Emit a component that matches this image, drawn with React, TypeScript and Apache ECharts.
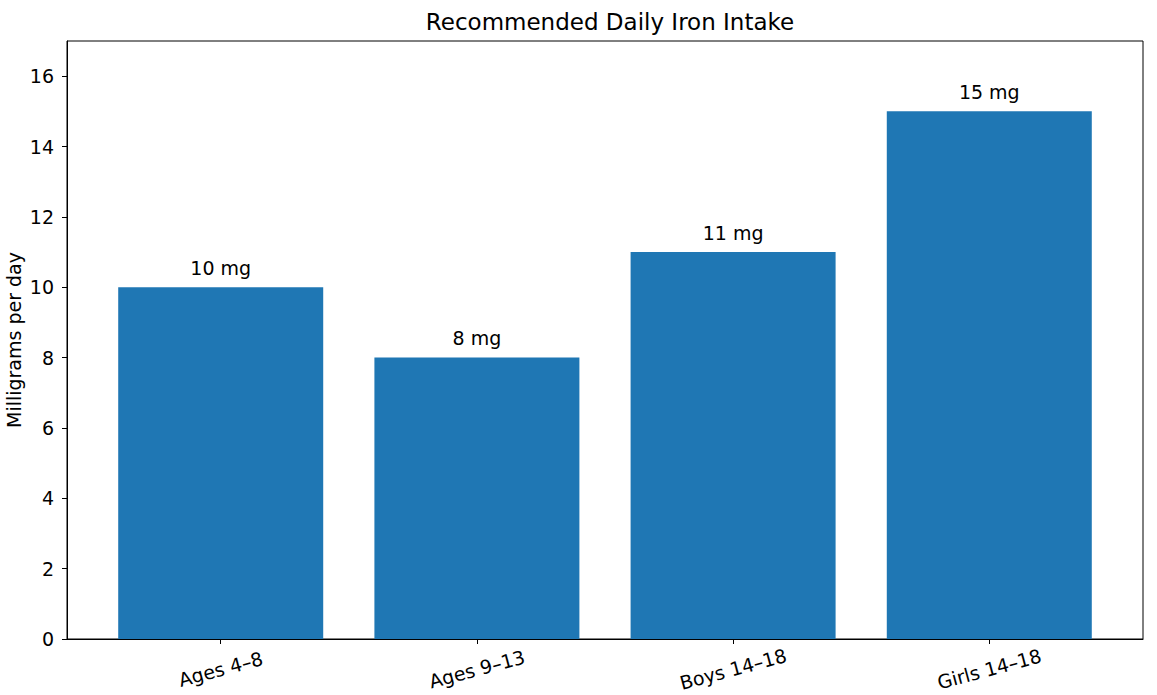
import React, { useEffect, useRef } from "react";
import * as echarts from "echarts";

const categories = ["Ages 4–8", "Ages 9–13", "Boys 14–18", "Girls 14–18"];
const values = [10, 8, 11, 15];
const yTicks = [0, 2, 4, 6, 8, 10, 12, 14, 16];
const xPositions = [0, 1, 2, 3];

const FONT = "DejaVu Sans";

export default function App() {
  const ref = useRef<HTMLDivElement>(null);
  useEffect(() => {
    document.body.style.margin = "0";
    const chart = echarts.init(ref.current!, null, { renderer: "svg" });
    chart.setOption({
      animation: false,
      backgroundColor: "#ffffff",
      textStyle: { fontFamily: FONT },
      title: {
        text: "Recommended Daily Iron Intake",
        left: 605,
        textAlign: "center",
        top: 5,
        textStyle: { fontFamily: FONT, fontSize: 23, fontWeight: "normal", color: "#000" },
      },
      grid: {
        left: 67,
        right: 14,
        top: 41,
        bottom: 56,
        outerBoundsMode: "none",
        containLabel: false,
        show: true,
        borderColor: "#000",
        borderWidth: 1,
        backgroundColor: "transparent",
      },
      xAxis: {
        type: "value",
        min: -0.6,
        max: 3.6,
        splitLine: { show: false },
        axisLine: { show: true, onZero: false, lineStyle: { color: "#000", width: 1 } },
        axisTick: { show: true, length: 5, customValues: xPositions, lineStyle: { color: "#000" } },
        axisLabel: {
          customValues: xPositions,
          formatter: (v: number) => categories[Math.round(v)] ?? "",
          rotate: 15,
          align: "center",
          verticalAlign: "middle",
          margin: 30,
          fontFamily: FONT,
          fontSize: 19,
          color: "#000",
        },
      },
      yAxis: {
        type: "value",
        min: 0,
        max: 17,
        name: "Milligrams per day",
        nameLocation: "middle",
        nameGap: 44,
        nameMoveOverlap: false,
        nameTextStyle: { fontFamily: FONT, fontSize: 19, color: "#000" },
        splitLine: { show: false },
        axisLine: { show: true, onZero: false, lineStyle: { color: "#000", width: 1 } },
        axisTick: { show: true, length: 5, customValues: yTicks, lineStyle: { color: "#000" } },
        axisLabel: {
          customValues: yTicks,
          margin: 13,
          fontFamily: FONT,
          fontSize: 19,
          color: "#000",
        },
      },
      series: [
        {
          type: "bar",
          data: values.map((v, i) => [xPositions[i], v]),
          barWidth: 205,
          itemStyle: { color: "#1f77b4" },
          label: {
            show: true,
            position: "top",
            distance: 10,
            formatter: (p: any) => `${p.value[1]} mg`,
            fontFamily: FONT,
            fontSize: 19,
            color: "#000",
          },
        },
      ],
    });
    return () => chart.dispose();
  }, []);
  return <div ref={ref} style={{ width: 1157, height: 695 }} />;
}
